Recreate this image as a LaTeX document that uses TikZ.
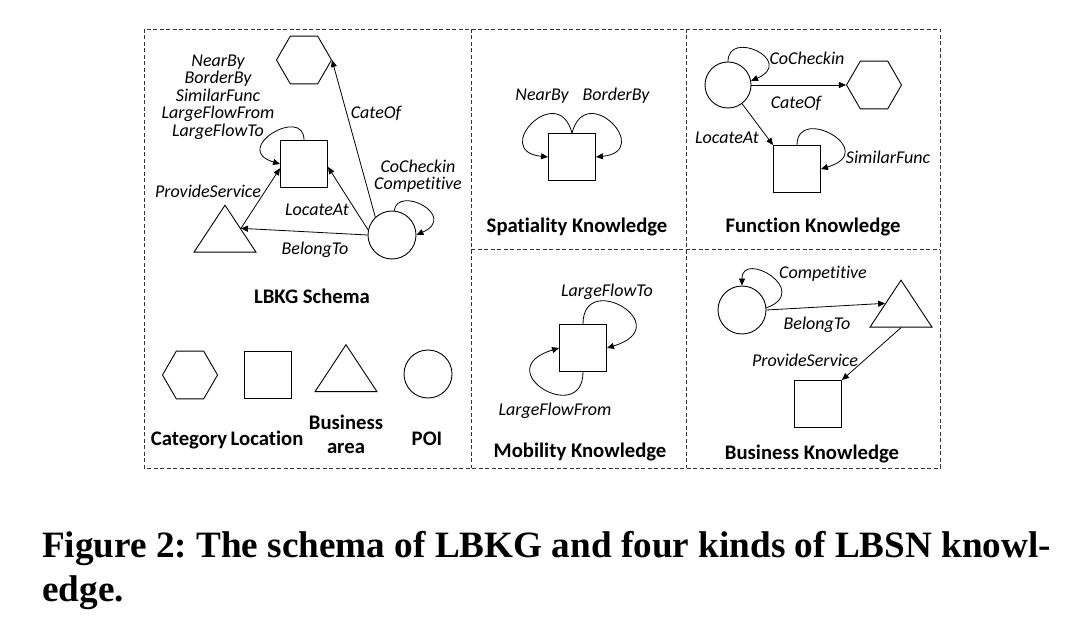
\documentclass[tikz,border=0pt]{standalone}
\usepackage{fontspec}
\setmainfont[RawFeature={-liga;-clig;-dlig;-calt}]{Carlito}
\newfontfamily\capfont{Liberation Serif}
\usetikzlibrary{shapes.geometric,arrows.meta,calc}
\begin{document}
\begin{tikzpicture}[x=1pt,y=-1pt,
  lbl/.style={font=\fontsize{18}{17.4}\selectfont\itshape, align=center, inner sep=0},
  ttl/.style={font=\fontsize{20.7}{23}\selectfont\bfseries, align=center, inner sep=0, anchor=base},
  sq/.style={draw, minimum size=47pt, inner sep=0, line width=0.9pt},
  circ/.style={draw, circle, minimum size=48pt, inner sep=0, line width=0.9pt},
  hexa/.style={draw, regular polygon, regular polygon sides=6, minimum size=55pt, inner sep=0, line width=0.9pt},
  tri/.style={draw, isosceles triangle, isosceles triangle stretches, shape border rotate=90, minimum width=62pt, minimum height=47pt, inner sep=0, line width=0.9pt},
  arr/.style={-{Triangle[length=7pt,width=6pt]}, line width=0.8pt},
  frame/.style={draw=black!80, line width=0.8pt, dash pattern=on 4pt off 2.5pt},
  captxt/.style={anchor=base west, inner sep=0, font=\capfont\bfseries\fontsize{37.2}{40}\selectfont}]
\useasboundingbox (0,0) rectangle (1070,644);
% frames
\draw[frame] (144,29) rectangle (940,468);
\draw[frame] (471,29) -- (471,468);
\draw[frame] (686,29) -- (686,468);
\draw[frame] (471,249) -- (940,249);

% ---------- LBKG schema ----------
\node[hexa] (h1) at (304,60) {};
\node[sq] (s1) at (304,164) {};
\node[tri] (t1) at (225,235.5) {};
\node[circ] (c1) at (392,235) {};
\draw[arr] (c1.133) -- (h1.east);
\draw[arr] (c1.168) -- (s1.-7);
\draw[arr] (c1.west) -- (t1.right side);
\draw[arr] (t1.right side) -- (s1.190);
\draw[arr] (s1.north) .. controls +(0,-35) and +(-50,-15) .. (s1.west);
\draw[arr] (c1.85) .. controls +(4,-26) and +(42,-19) .. (c1.east);
\node[lbl] (l1) at (218,97) {NearBy\\BorderBy\\SimilarFunc\\LargeFlowFrom\\LargeFlowTo};
\node[lbl] (l2) at (376,113) {CateOf};
\node[lbl] (l3) at (418,176) {CoCheckin\\Competitive};
\node[lbl] (l4) at (208,191) {ProvideService};
\node[lbl] (l5) at (317,210) {LocateAt};
\node[lbl] (l6) at (315,250) {BelongTo};
\node[ttl] (T1) at (312,303) {LBKG Schema};

% legend
\node[hexa] (hL) at (190,375) {};
\node[sq] (sL) at (268,375) {};
\node[tri] (tL) at (346,375) {};
\node[circ] (cL) at (428,374) {};
\node[ttl] (lL1) at (189,445) {Category};
\node[ttl] (lL2) at (267,445) {Location};
\node[ttl] (lL3a) at (346,429) {Business};
\node[ttl] (lL3b) at (346,453) {area};
\node[ttl] (lL4) at (427,445) {POI};

% ---------- Spatiality ----------
\node[sq] (sp) at (572,157) {};
\draw[arr] (sp.north) .. controls +(-14,-53) and +(-58,-6) .. (sp.west);
\draw[arr] (sp.north) .. controls +(14,-53) and +(58,-6) .. (sp.east);
\node[lbl] (l7) at (542,96) {NearBy};
\node[lbl] (l8) at (616,96) {BorderBy};
\node[ttl] (T2) at (577,233) {Spatiality Knowledge};

% ---------- Function ----------
\node[circ, minimum size=46pt] (c3) at (728,85) {};
\node[hexa] (h3) at (874,85) {};
\node[sq] (s3) at (797,169) {};
\draw[arr] (c3) -- (h3.west);
\draw[arr] (c3) -- (s3.north west);
\draw[arr] (c3.north) .. controls +(0,-33) and +(45,-20) .. (c3.10);
\draw[arr] (s3.north) .. controls +(0,-41) and +(60,-18) .. (s3.east);
\node[lbl] (l9) at (807,58) {CoCheckin};
\node[lbl] (l10) at (796,103) {CateOf};
\node[lbl] (l11) at (727,138) {LocateAt};
\node[lbl] (l12) at (888,157) {SimilarFunc};
\node[ttl] (T3) at (813,233) {Function Knowledge};

% ---------- Mobility ----------
\node[sq] (sm) at (583,348) {};
\draw[arr] (sm.north) .. controls +(0,-55) and +(72,-22) .. (sm.east);
\draw[arr] (sm.south) .. controls +(0,55) and +(-72,22) .. (sm.west);
\node[lbl] (l13) at (607,292) {LargeFlowTo};
\node[lbl] (l14) at (555,411) {LargeFlowFrom};
\node[ttl] (T4) at (580,457) {Mobility Knowledge};

% ---------- Business ----------
\node[circ] (c4) at (742,310) {};
\node[tri] (t4) at (901,310.5) {};
\node[sq] (s4) at (818,404) {};
\draw[arr] (c4.east) -- (t4.left side);
\draw[arr] (t4.south) -- (s4.north east);
\draw[arr] (c4.5) .. controls +(46,-17) and +(0,-36) .. (c4.north);
\node[lbl] (l15) at (823,274) {Competitive};
\node[lbl] (l16) at (817,325) {BelongTo};
\node[lbl] (l17) at (805,360) {ProvideService};
\node[ttl] (T5) at (812,459) {Business Knowledge};

% caption
\node[captxt] (cap1) at (42,557) {\frenchspacing Figure 2: The schema of LBKG and four kinds of LBSN knowl-};
\node[captxt] (cap2) at (42,601) {edge.};
\end{tikzpicture}
\end{document}
